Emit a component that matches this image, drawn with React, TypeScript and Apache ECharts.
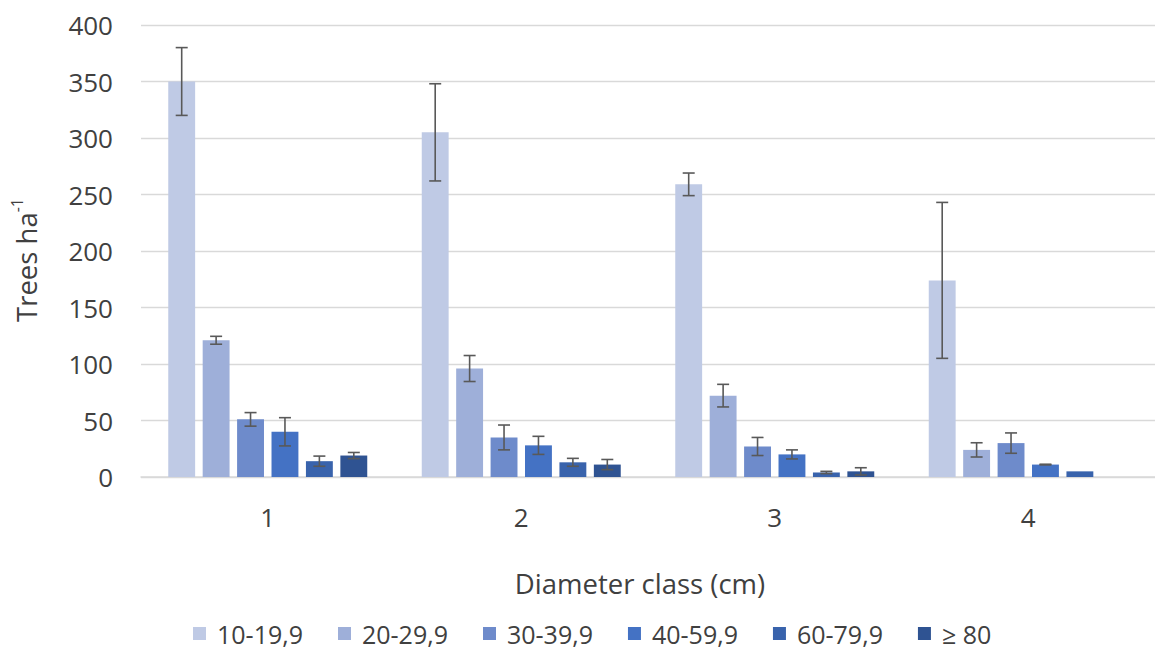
import React, { useEffect, useRef } from "react";
import * as echarts from "echarts";

const categories = ["1", "2", "3", "4"];
const seriesNames = ["10-19,9", "20-29,9", "30-39,9", "40-59,9", "60-79,9", "≥ 80"];
const colors = ["#BFCAE5", "#9EAFD9", "#6E8BCB", "#4472C4", "#3963AC", "#2F5392"];

const v10 = [350, 305, 259, 174];
const v20 = [121, 96, 72, 24];
const v30 = [51, 35, 27, 30];
const v40 = [40, 28, 20, 11];
const v60 = [14, 13, 4, 5];
const v80 = [19, 11, 5, null];

const e10 = [30, 43, 10, 69];
const e20 = [3.5, 11.5, 10, 6.3];
const e30 = [6, 11, 8, 9];
const e40 = [12.5, 8, 4, 0.3];
const e60 = [4.5, 3.5, 1, null];
const e80 = [2.7, 4.5, 3.2, null];

const yTicks = { min: 0, max: 400, interval: 50 };

const values = [v10, v20, v30, v40, v60, v80];
const errors = [e10, e20, e30, e40, e60, e80];

const BAR_CATEGORY_GAP = 0.215;
const BAR_GAP = 0.28;

export default function App() {
  const ref = useRef<HTMLDivElement>(null);
  useEffect(() => {
    if (!ref.current) return;
    const chart = echarts.init(ref.current, null, { renderer: "svg" });
    const n = values.length;
    const errData: any[] = [];
    values.forEach((vals, si) => {
      vals.forEach((v, ci) => {
        const e = errors[si][ci];
        if (v == null || e == null) return;
        errData.push([ci, v + e, v - e, si]);
      });
    });
    const font = "'Open Sans', sans-serif";
    const textColor = "#404040";
    chart.setOption({
      animation: false,
      grid: { left: 141, right: -6, top: 25, bottom: 174, containLabel: false },
      xAxis: {
        type: "category",
        data: categories,
        axisLine: { lineStyle: { color: "#D9D9D9", width: 1.5 } },
        axisTick: { show: false },
        axisLabel: { fontSize: 26, lineHeight: 26, color: textColor, fontFamily: font, margin: 27 },
        splitLine: { show: false },
      },
      yAxis: {
        type: "value",
        min: yTicks.min,
        max: yTicks.max,
        interval: yTicks.interval,
        axisLine: { show: false },
        axisTick: { show: false },
        axisLabel: { fontSize: 26, color: textColor, fontFamily: font, margin: 28 },
        splitLine: { lineStyle: { color: "#D9D9D9", width: 1.3 } },
      },
      legend: {
        data: seriesNames,
        left: 188,
        top: 616,
        padding: 5,
        icon: "rect",
        itemWidth: 13,
        itemHeight: 13,
        itemGap: 35,
        textStyle: { fontSize: 25, lineHeight: 25, color: textColor, fontFamily: font, padding: [0, 0, 0, 6] },
      },
      graphic: [
        {
          type: "text",
          x: 640,
          y: 583,
          style: {
            text: "Diameter class (cm)",
            fontSize: 27.5,
            fontFamily: font,
            fill: textColor,
            textAlign: "center",
            textVerticalAlign: "middle",
          },
        },
        {
          type: "text",
          x: 26,
          y: 260,
          rotation: Math.PI / 2,
          style: {
            text: "{a|Trees ha}{b|-1}",
            textAlign: "center",
            textVerticalAlign: "middle",
            rich: {
              a: { fontSize: 27.5, fontFamily: font, fill: textColor, color: textColor, lineHeight: 34 },
              b: { fontSize: 16, fontFamily: font, fill: textColor, color: textColor, lineHeight: 16, verticalAlign: "top" },
            },
          },
        },
      ],
      series: [
        ...values.map((vals, si) => ({
          type: "bar",
          name: seriesNames[si],
          data: vals,
          barCategoryGap: (BAR_CATEGORY_GAP * 100).toFixed(1) + "%",
          barGap: (BAR_GAP * 100).toFixed(0) + "%",
          itemStyle: { color: colors[si] },
          emphasis: { disabled: true },
        })),
        {
          type: "custom",
          name: "error",
          data: errData,
          encode: { x: 0, y: [1, 2] },
          z: 10,
          renderItem: (params: any, api: any) => {
            const ci = api.value(0);
            const hi = api.value(1);
            const lo = api.value(2);
            const si = api.value(3);
            const W = api.size([1, 0])[0];
            const band = W * (1 - BAR_CATEGORY_GAP);
            const barW = band / (n + (n - 1) * BAR_GAP);
            const cx = api.coord([ci, 0])[0] - band / 2 + si * barW * (1 + BAR_GAP) + barW / 2;
            const yHi = api.coord([ci, hi])[1];
            const yLo = api.coord([ci, lo])[1];
            const cap = 6;
            const style = { stroke: "#595959", lineWidth: 1.6 };
            return {
              type: "group",
              children: [
                { type: "line", shape: { x1: cx, y1: yHi, x2: cx, y2: yLo }, style },
                { type: "line", shape: { x1: cx - cap, y1: yHi, x2: cx + cap, y2: yHi }, style },
                { type: "line", shape: { x1: cx - cap, y1: yLo, x2: cx + cap, y2: yLo }, style },
              ],
            };
          },
        },
      ],
    });
    return () => chart.dispose();
  }, []);
  return (
    <div
      ref={ref}
      style={{ position: "absolute", left: 0, top: 0, width: 1155, height: 651, background: "#fff" }}
    />
  );
}
